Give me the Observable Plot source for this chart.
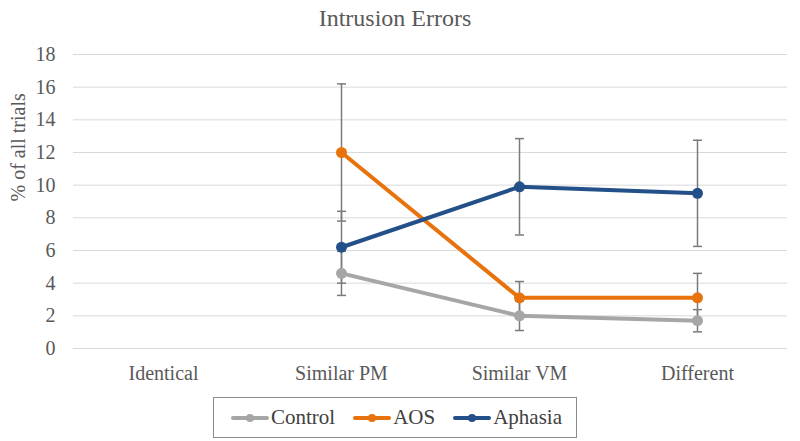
<!DOCTYPE html>
<html>
<head>
<meta charset="utf-8">
<script src="https://cdn.jsdelivr.net/npm/d3@7"></script>
<script src="https://cdn.jsdelivr.net/npm/@observablehq/plot@0.6"></script>
<style>
  html, body { margin: 0; padding: 0; background: #fff; }
  * { font-family: "Liberation Serif", serif !important; }
  svg text { font-family: "Liberation Serif", serif !important; }
  #wrap { position: relative; width: 800px; height: 441px; color: #595959; }
  #title { position: absolute; left: 0; top: 0; width: 790px; text-align: center; font-size: 24px; line-height: 36px; color: #595959; }
  #chart { position: absolute; left: 0; top: 36px; }
  #legend { position: absolute; left: 213px; top: 397px; width: 362px; height: 39px; border: 1px solid #8c8c8c; display: flex; align-items: center; justify-content: flex-start; padding-left: 0; gap: 18px; font-size: 21px; color: #404040; box-sizing: content-box; }
  #legend .item:first-child { margin-left: 17px; }
  .item { display: flex; align-items: center; gap: 2px; }
</style>
</head>
<body>
<div id="wrap">
  <div id="title">Intrusion Errors</div>
  <div id="chart"></div>
  <div id="legend"></div>
</div>
<script>
const categories = ["Identical", "Similar PM", "Similar VM", "Different"];
const seriesNames = ["Control", "AOS", "Aphasia"];
const seriesColors = ["#a6a6a6", "#e8730c", "#24508a"];
const control = [null, 4.6, 2.0, 1.7];
const aos = [null, 12.0, 3.1, 3.1];
const aphasia = [null, 6.2, 9.9, 9.5];
const controlErr = [null, 1.35, 0.9, 0.68];
const aosErr = [null, 4.2, 1.0, 1.5];
const aphasiaErr = [null, 2.2, 2.95, 3.25];
const yTicks = [0, 2, 4, 6, 8, 10, 12, 14, 16, 18];

const values = [control, aos, aphasia];
const errs = [controlErr, aosErr, aphasiaErr];
const rows = [];
seriesNames.forEach((s, si) => {
  categories.forEach((c, ci) => {
    const v = values[si][ci];
    if (v == null) return;
    const e = errs[si][ci];
    rows.push({cat: c, series: s, value: v, lo: v - e, hi: v + e});
  });
});

const capSymbol = {
  draw(ctx, size) {
    const w = Math.sqrt(size / Math.PI);
    ctx.moveTo(-w, 0);
    ctx.lineTo(w, 0);
  }
};

const plot = Plot.plot({
  width: 800,
  height: 356,
  marginTop: 18,
  marginBottom: 44,
  marginLeft: 73,
  marginRight: 13,
  style: { fontSize: "20px", color: "#595959", background: "#fff" },
  x: { type: "point", domain: categories, padding: 0.5, label: null },
  y: { domain: [0, 18], ticks: yTicks, label: null },
  color: { domain: seriesNames, range: seriesColors },
  marks: [
    Plot.gridY(yTicks, { stroke: "#d9d9d9", strokeOpacity: 1, strokeWidth: 1 }),
    Plot.axisY(yTicks, { tickSize: 0, tickPadding: 18, fontSize: 20, fill: "#595959", label: null }),
    Plot.axisX({ tickSize: 0, tickPadding: 17, fontSize: 20, fill: "#595959", label: null }),
    Plot.text(["% of all trials"], { frameAnchor: "left", dx: -55, rotate: -90, fontSize: 20, fill: "#595959" }),
    Plot.ruleX(rows, { x: "cat", y1: "lo", y2: "hi", stroke: "#7a7a7a", strokeWidth: 1.5 }),
    Plot.dot(rows, { x: "cat", y: "lo", symbol: capSymbol, r: 4.5, stroke: "#7a7a7a", strokeWidth: 1.5, fill: "none" }),
    Plot.dot(rows, { x: "cat", y: "hi", symbol: capSymbol, r: 4.5, stroke: "#7a7a7a", strokeWidth: 1.5, fill: "none" }),
    Plot.line(rows, { x: "cat", y: "value", z: "series", stroke: "series", strokeWidth: 4, strokeLinejoin: "round", strokeLinecap: "round" }),
    Plot.dot(rows, { x: "cat", y: "value", fill: "series", r: 5.5 })
  ]
});
document.getElementById("chart").appendChild(plot);

const legend = document.getElementById("legend");
seriesNames.forEach((s, i) => {
  const item = document.createElement("div");
  item.className = "item";
  item.innerHTML = `<svg width="38" height="12"><line x1="2" y1="6" x2="36" y2="6" stroke="${seriesColors[i]}" stroke-width="4" stroke-linecap="round"/><circle cx="19" cy="6" r="4" fill="${seriesColors[i]}"/></svg><span>${s}</span>`;
  legend.appendChild(item);
});
</script>
</body>
</html>
